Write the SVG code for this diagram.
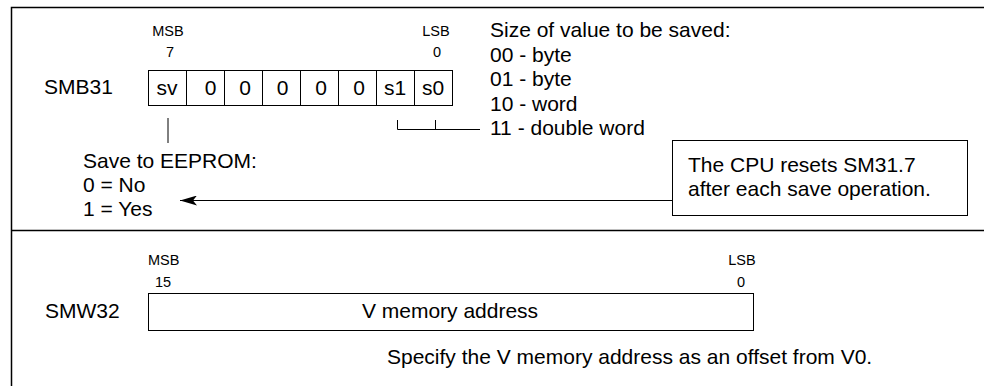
<svg xmlns="http://www.w3.org/2000/svg" width="984" height="386" viewBox="0 0 984 386">
  <style>
    text { font-family: "Liberation Sans", Arial, sans-serif; fill: #000; }
    .t { font-size: 21px; }
    .s { font-size: 14.5px; }
    .c { text-anchor: middle; }
    .frame { fill: none; stroke: #000; stroke-width: 1.5; }
    .cell { fill: #fff; stroke: #000; stroke-width: 1; }
    .ln { fill: none; stroke: #000; stroke-width: 1; }
  </style>
  <defs>
    <marker id="ah" markerWidth="18" markerHeight="10" refX="17" refY="5" orient="auto" markerUnits="userSpaceOnUse">
      <path d="M17,5 L0,0 L4,5 L0,10 Z" fill="#000"/>
    </marker>
  </defs>
  <rect x="0" y="0" width="984" height="386" fill="#fff"/>
  <g id="frame">
    <rect class="frame" x="11.5" y="7.5" width="1000" height="400"/>
    <line class="frame" x1="11" y1="230.5" x2="984" y2="230.5"/>
  </g>
  <g id="smb31">
    <text class="s c" x="168" y="36">MSB</text>
    <text class="s c" x="170" y="57">7</text>
    <text class="s c" x="436" y="36">LSB</text>
    <text class="s c" x="437" y="57">0</text>
    <text class="t" x="44" y="94">SMB31</text>
    <rect class="cell" x="148.5" y="70.5" width="38" height="35"/>
    <rect class="cell" x="186.5" y="70.5" width="38" height="35"/>
    <rect class="cell" x="224.5" y="70.5" width="38" height="35"/>
    <rect class="cell" x="262.5" y="70.5" width="38" height="35"/>
    <rect class="cell" x="300.5" y="70.5" width="38" height="35"/>
    <rect class="cell" x="338.5" y="70.5" width="38" height="35"/>
    <rect class="cell" x="376.5" y="70.5" width="38" height="35"/>
    <rect class="cell" x="414.5" y="70.5" width="38" height="35"/>
    <text class="t c" x="167" y="95">sv</text>
    <text class="t c" x="210.5" y="95">0</text>
    <text class="t c" x="245" y="95">0</text>
    <text class="t c" x="282.5" y="95">0</text>
    <text class="t c" x="321" y="95">0</text>
    <text class="t c" x="359" y="95">0</text>
    <text class="t c" x="395" y="95">s1</text>
    <text class="t c" x="433" y="95">s0</text>
  </g>
  <g id="size-list">
    <text class="t" x="490" y="37">Size of value to be saved:</text>
    <text class="t" x="490" y="61.5">00 - byte</text>
    <text class="t" x="490" y="86">01 - byte</text>
    <text class="t" x="490" y="110.5">10 - word</text>
    <text class="t" x="490" y="135">11 - double word</text>
  </g>
  <g id="eeprom">
    <text class="t" x="83" y="168">Save to EEPROM:</text>
    <text class="t" x="83" y="192">0 = No</text>
    <text class="t" x="83" y="216">1 = Yes</text>
  </g>
  <g id="note">
    <rect class="cell" x="672.5" y="140.5" width="295" height="75"/>
    <text class="t" x="688" y="172">The CPU resets SM31.7</text>
    <text class="t" x="688" y="196">after each save operation.</text>
  </g>
  <g id="connectors">
    <line class="ln" x1="168" y1="118" x2="168" y2="143"/>
    <path class="ln" d="M397.5,120 V129.5 H480"/>
    <line class="ln" x1="435.5" y1="120" x2="435.5" y2="129"/>
    <line class="ln" x1="672" y1="200.5" x2="180" y2="200.5" marker-end="url(#ah)"/>
  </g>
  <g id="smw32">
    <text class="s" x="148" y="265">MSB</text>
    <text class="s c" x="163" y="287">15</text>
    <text class="s c" x="742" y="265">LSB</text>
    <text class="s c" x="741" y="287">0</text>
    <text class="t" x="45" y="318">SMW32</text>
    <rect class="cell" x="148.5" y="293.5" width="605" height="37"/>
    <text class="t c" x="450" y="318">V memory address</text>
    <text class="t" x="387" y="364">Specify the V memory address as an offset from V0.</text>
  </g>
</svg>
